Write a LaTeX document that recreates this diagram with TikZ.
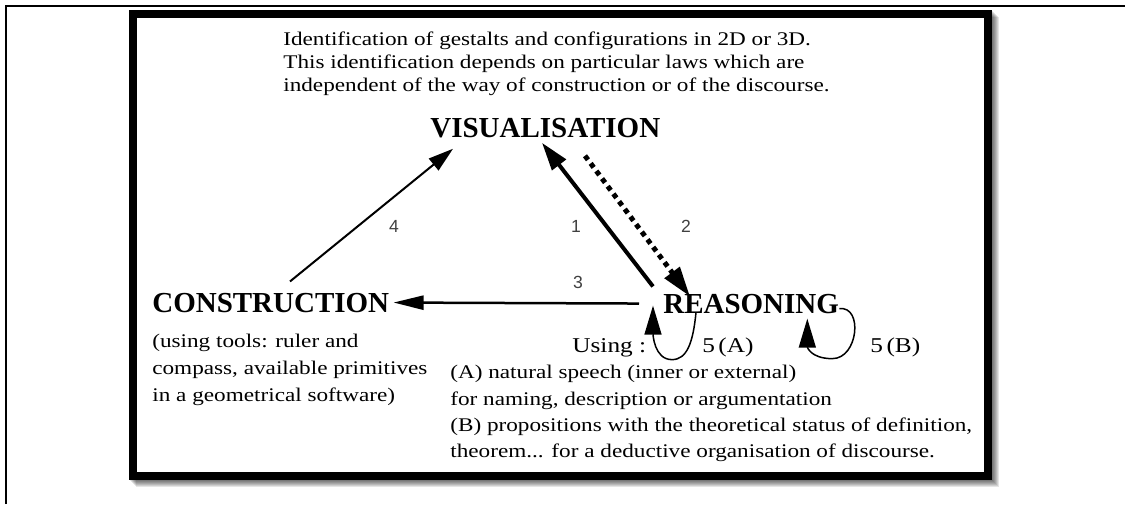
\documentclass[tikz,border=0pt]{standalone}
\usepackage{fontspec}
\setmainfont{Liberation Serif}
\newfontfamily\scanfont{Liberation Serif}[FakeStretch=1.2]
\newfontfamily\numfont{Liberation Sans}
\usetikzlibrary{arrows.meta, calc}

\begin{document}
\begin{tikzpicture}[
    x=0.2mm, y=-0.2mm,
    title/.style={font=\bfseries\fontsize{16.5}{18}\selectfont, inner sep=0.8mm, anchor=base west},
    desc/.style={font=\scanfont\fontsize{11}{13}\selectfont, align=left, inner sep=0pt, anchor=north west},
    numlabel/.style={font=\numfont\fontsize{10}{12}\selectfont, text=black!75, inner sep=0pt},
    small/.style={font=\scanfont\fontsize{12}{14}\selectfont, inner sep=0pt, anchor=base west},
    solidarr/.style={-{Triangle[length=5.6mm, width=3.4mm]}, line width=0.8mm},
    dotarr/.style={-{Triangle[length=6mm, width=3.6mm]}, line width=1mm, dash pattern=on 1mm off 0.9mm},
    arrow/.style={-{Triangle[length=6mm, width=2.8mm]}, line width=0.5mm},
    thinarr/.style={-{Triangle[length=5mm, width=3mm]}, line width=0.4mm},
    selfloop/.style={-{Triangle[length=5.8mm, width=3.4mm]}, line width=0.3mm}
]
    \useasboundingbox (0,0) rectangle (1125,504);

    % Frame with its shadow
    \draw[line width=0.4mm] (6,504) |- (1125,6);
    \foreach \d in {1,...,7}
        \fill[black, opacity=0.1] (129+\d,10+\d) rectangle (992+\d,480+\d);
    \draw[line width=1.6mm, fill=white] (133,14) rectangle (988,476);

    % The three poles
    \node[title] (vis) at (426,137) {VISUALISATION};
    \node[title] (cons) at (148,312) {CONSTRUCTION};
    \node[title] (reas) at (659,313) {REASONING};

    % Descriptions
    \node[desc] (vistxt) at (283,32) {Identification of gestalts and configurations in 2D or 3D.\\
        This identification depends on particular laws which are\\
        independent of the way of construction or of the discourse.};
    \node[desc, font=\scanfont\fontsize{11}{15.3}\selectfont] (constxt) at (152,334) {(using tools: ruler and\\
        compass, available primitives\\
        in a geometrical software)};
    \node[desc, font=\scanfont\fontsize{11}{15}\selectfont] (reastxt) at (450,365) {(A) natural speech (inner or external)\\
        for naming, description or argumentation\\
        (B) propositions with the theoretical status of definition,\\
        theorem... for a deductive organisation of discourse.};
    \node[small] (using) at (572,352) {Using :};
    \node[small] (fiveA) at (702,352) {5\,(A)};
    \node[small] (fiveB) at (870,352) {5\,(B)};

    % Numbers
    \node[numlabel] (n1) at (576,226) {1};
    \node[numlabel] (n2) at (686,226) {2};
    \node[numlabel] (n3) at (578,282) {3};
    \node[numlabel] (n4) at (394,226) {4};

    % Connections
    \draw[solidarr] ($(reas.north west)+(-6,-3)$) -- ($(vis.south west)+(116,1)$);
    \draw[dotarr] ($(vis.south west)+(159,14)$) -- ($(reas.north west)+(31,7)$);
    \draw[arrow] ($(reas.west)+(-20,0)$) -- (cons.east);
    \draw[thinarr] ($(cons.north west)+(142,-7)$) -- ($(vis.south west)+(27,7)$);
    \draw[selfloop] ($(reas.south west)+(37,-5)$) .. controls +(-3,30) and +(15,0) .. ($(reas.south west)+(13,42)$)
        .. controls +(-18,0) and +(0,28) .. ($(reas.south west)+(-6,-12)$);
    \draw[selfloop] ($(reas.south east)+(-4,-9)$) .. controls +(24,-3) and +(26,0) .. ($(reas.south east)+(-11,41)$)
        .. controls +(-22,0) and +(0,28) .. ($(reas.south east)+(-36,1)$);
\end{tikzpicture}
\end{document}
